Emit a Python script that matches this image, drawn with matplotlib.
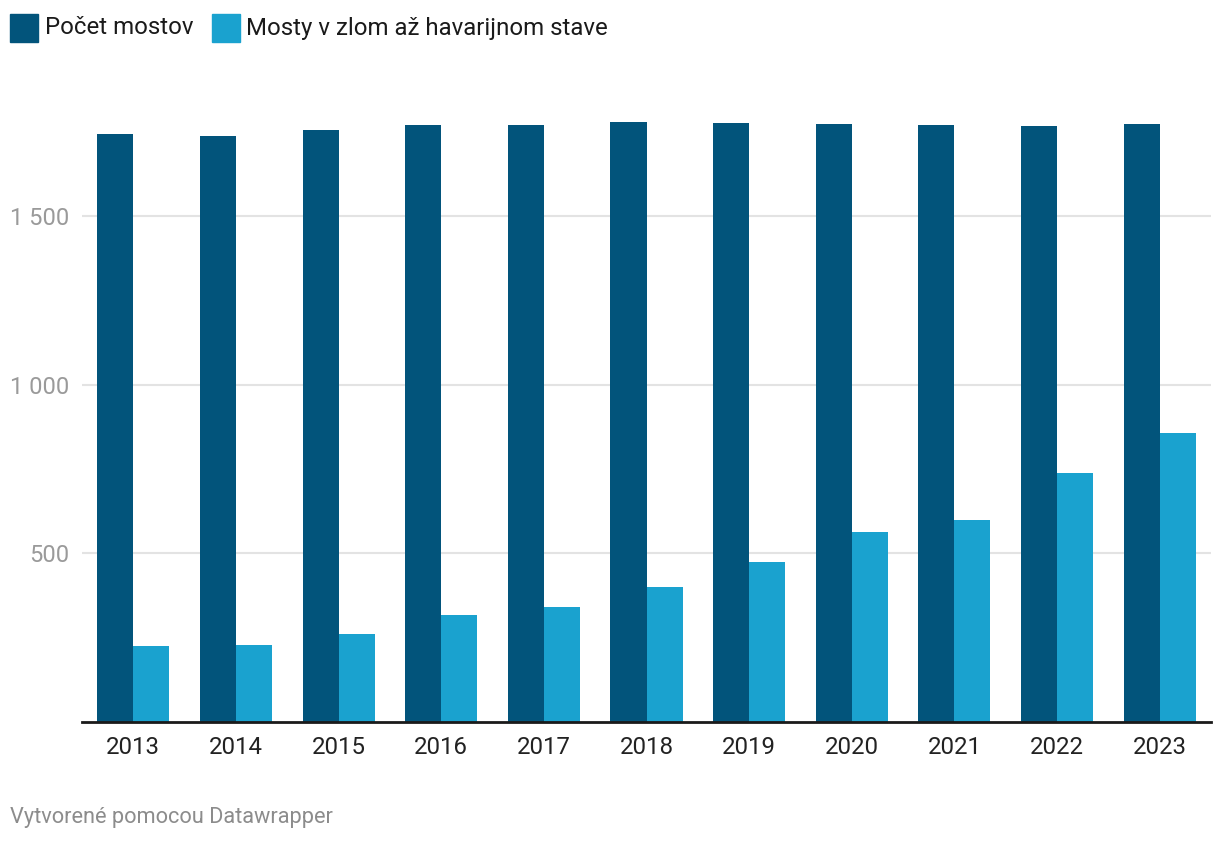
import matplotlib
matplotlib.use("Agg")
import matplotlib.pyplot as plt
from matplotlib.patches import Rectangle
from matplotlib.ticker import FuncFormatter
import numpy as np

plt.rcParams['font.family'] = ['Roboto', 'DejaVu Sans']

years = ["2013", "2014", "2015", "2016", "2017", "2018", "2019", "2020", "2021", "2022", "2023"]
pocet_mostov = [1745, 1739, 1757, 1772, 1772, 1780, 1777, 1775, 1772, 1769, 1775]
mosty_zle = [225, 228, 260, 317, 341, 400, 474, 563, 599, 739, 857]
series_names = ["Počet mostov", "Mosty v zlom až havarijnom stave"]
yticks = [500, 1000, 1500]

dark = "#02547b"
light = "#1aa2cf"

fig = plt.figure(figsize=(12.2, 8.44), dpi=100)
ax = fig.add_axes([82 / 1220, (844 - 721.7) / 844, (1211 - 82) / 1220, 640 / 844])

x = np.arange(len(years))
w = 0.351
ax.bar(x - w / 2, pocet_mostov, width=w, color=dark, zorder=3)
ax.bar(x + w / 2, mosty_zle, width=w, color=light, zorder=3)

ax.set_xlim(-0.5, len(years) - 0.5)
ax.set_ylim(0, 1900)
ax.set_yticks(yticks)
ax.yaxis.set_major_formatter(FuncFormatter(lambda v, p: f"{int(v):,}".replace(",", " ")))
ax.set_xticks(x)
ax.set_xticklabels(years)
ax.grid(axis="y", color="#e3e3e3", linewidth=1.5, zorder=0)
for s in ["top", "right", "left"]:
    ax.spines[s].set_visible(False)
ax.spines["bottom"].set_color("#1a1a1a")
ax.spines["bottom"].set_linewidth(2)
ax.spines["bottom"].set_zorder(4)
ax.tick_params(axis="y", length=0, pad=9, labelsize=17, labelcolor="#9a9a9a")
ax.tick_params(axis="x", length=0, pad=10, labelsize=17.3, labelcolor="#222222")

# Legend
H, W = 844, 1220
def fx(px):
    return px / W
def fy(py):
    return 1 - py / H

fig.patches.append(Rectangle((fx(10), fy(42)), fx(28), 28 / H, transform=fig.transFigure, color=dark))
fig.text(fx(45), fy(28), series_names[0], fontsize=17.3, color="#1a1a1a", va="center", ha="left")
fig.patches.append(Rectangle((fx(212), fy(42)), fx(28), 28 / H, transform=fig.transFigure, color=light))
fig.text(fx(246), fy(28), series_names[1], fontsize=17.3, color="#1a1a1a", va="center", ha="left")

fig.text(fx(10), fy(818), "Vytvorené pomocou Datawrapper", fontsize=15.7, color="#8c8c8c", va="center", ha="left")

fig.savefig("out.png", dpi=100)
